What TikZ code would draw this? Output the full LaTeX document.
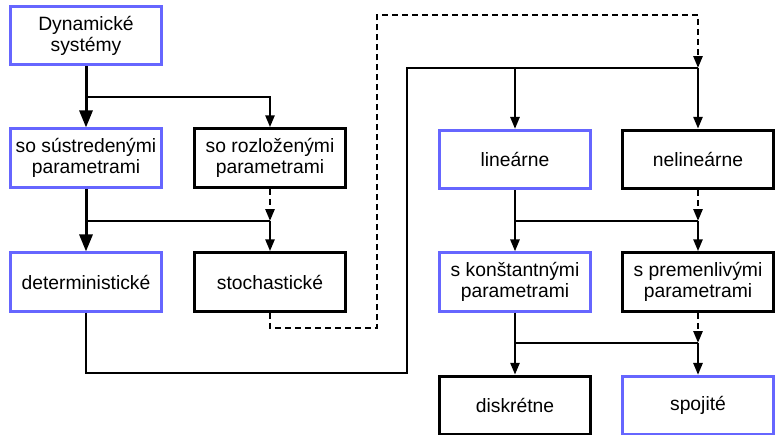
\documentclass[tikz,border=0pt]{standalone}
\usepackage{fontspec}
\setmainfont{Liberation Sans}
\usetikzlibrary{arrows.meta}
\definecolor{bbox}{RGB}{102,102,255}
\begin{document}
\begin{tikzpicture}[x=1pt,y=-1pt,
 box/.style={draw=black,line width=3pt,minimum width=151pt,minimum height=58.5pt,align=center,font=\fontsize{19.3}{21}\selectfont,inner sep=0pt},
 bluebox/.style={box,draw=bbox,line width=2.6pt},
 ln/.style={line width=2.6pt},
 conn/.style={ln,-{Triangle[width=9pt,length=12pt]}},
 bigconn/.style={line width=3pt,-{Triangle[width=13pt,length=17pt]}},
 dconn/.style={ln,dash pattern=on 6pt off 4pt,-{Triangle[width=9pt,length=12pt]}}]
\useasboundingbox (0,0) rectangle (775,434);
% nodes
\node[bluebox] (A) at (86,35.5) {Dynamické\\systémy};
\node[bluebox] (B) at (86,158) {so sústredenými\\parametrami};
\node[box] (C) at (270,158) {so rozloženými\\parametrami};
\node[bluebox] (D) at (86,282) {deterministické};
\node[box] (E) at (270,282) {stochastické};
\node[bluebox] (F) at (515,159.5) {lineárne};
\node[box] (G) at (698,159.5) {nelineárne};
\node[bluebox] (H) at (515,282) {s konštantnými\\parametrami};
\node[box] (I) at (698,282) {s premenlivými\\parametrami};
\node[box] (J) at (515,405.5) {diskrétne};
\node[bluebox] (K) at (698,405.5) {spojité};
% junction coordinates
\coordinate (j1) at (86,97);
\coordinate (j2l) at (86,221);
\coordinate (j2r) at (270,221);
\coordinate (c1) at (407,373);
\coordinate (c2) at (407,68);
\coordinate (j3l) at (515,68);
\coordinate (j3r) at (698,68);
\coordinate (d1) at (377,328);
\coordinate (d2) at (377,15);
\coordinate (j4l) at (515,221);
\coordinate (j4r) at (698,221);
\coordinate (j5l) at (515,343);
\coordinate (j5r) at (698,343);
% connectors
\draw[bigconn] (A.south) -- (B.north);
\draw[conn] (j1) -| (C.north);
\draw[bigconn] (B.south) -- (D.north);
\draw[ln] (j2l) -- (j2r);
\draw[conn] (j2r) -- (E.north);
\draw[dconn] (C.south) -- (j2r);
\draw[ln] (D.south) |- (c1) -- (c2) -- (j3r);
\draw[conn] (j3l) -- (F.north);
\draw[conn] (j3r) -- (G.north);
\draw[dconn] (E.south) |- (d1) -- (d2) -| (j3r);
\draw[conn] (F.south) -- (H.north);
\draw[ln] (j4l) -- (j4r);
\draw[conn] (j4r) -- (I.north);
\draw[dconn] (G.south) -- (j4r);
\draw[conn] (H.south) -- (J.north);
\draw[ln] (j5l) -- (j5r);
\draw[conn] (j5r) -- (K.north);
\draw[dconn] (I.south) -- (j5r);
\end{tikzpicture}
\end{document}
